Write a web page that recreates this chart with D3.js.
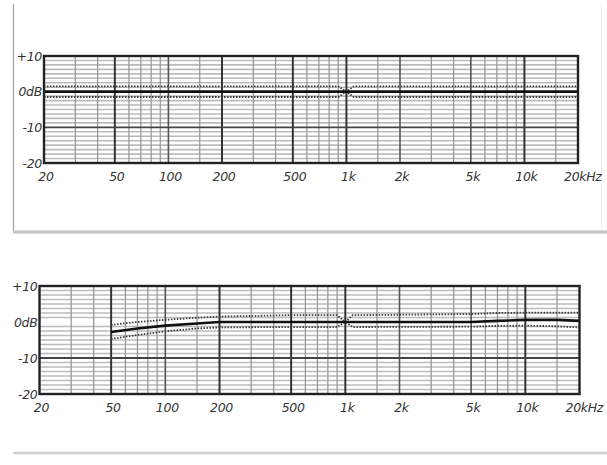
<!DOCTYPE html>
<html lang="en">
<head>
<meta charset="utf-8">
<script src="https://d3js.org/d3.v7.min.js"></script>
<style type="text/css">
body { margin: 0; background: #fff; }
.lab { font: italic 12.5px "DejaVu Sans", "Liberation Sans", sans-serif; fill: #333; letter-spacing: -0.3px; }
</style>
</head>
<body>
<svg id="chart" width="607" height="465"></svg>
<script type="text/javascript">

// frequency axis
var freqTicks = [20, 50, 100, 200, 500, 1000, 2000, 5000, 10000, 20000];
var freqLabels = ["20", "50", "100", "200", "500", "1k", "2k", "5k", "10k", "20kHz"];
var boldFreqs = [50, 200, 500, 1000, 10000];
var midFreqs = [100, 2000, 5000];
var minorFreqs = [30, 40, 60, 70, 80, 90, 150, 300, 400, 600, 700, 800, 900,
                  1500, 3000, 4000, 6000, 7000, 8000, 9000, 15000];

// level axis
var dbTicks = [10, 0, -10, -20];
var dbLabels = ["+10", "0dB", "-10", "-20"];
var dbMinor = [8.75, 7.5, 6.25, 5, 3.75, 2.5, 1.25, -1.25, -2.5, -3.75, -5, -6.25, -7.5, -8.75,
               -11.25, -12.5, -13.75, -15, -16.25, -17.5, -18.75];

// upper plot: flat response
var topFreq  = [20, 900, 1000, 1100, 20000];
var topMain  = [0, 0, 0, 0, 0];
var topUpper = [1.5, 1.5, 0, 1.5, 1.5];
var topLower = [-1.5, -1.5, 0, -1.5, -1.5];

// lower plot: starts at 50 Hz
var botFreq  = [50, 70, 100, 150, 200, 500, 900, 1000, 1100, 5000, 7000, 10000, 15000, 20000];
var botMain  = [-2.8, -1.8, -1.0, -0.4, 0, 0, 0, 0, 0, 0, 0.3, 0.6, 0.6, 0.3];
var botUpper = [-0.8, 0, 0.6, 1.2, 1.5, 1.9, 1.9, 0, 1.9, 2.2, 2.5, 2.6, 2.6, 2.6];
var botLower = [-4.7, -3.6, -2.6, -1.8, -1.5, -1.4, -1.4, 0, -1.4, -1.3, -1.1, -1.0, -1.2, -1.5];

var svg = d3.select("#chart");

// panel frames
svg.append("line").attr("x1", 13.5).attr("x2", 13.5).attr("y1", 4).attr("y2", 232)
  .style("stroke", "#a0a0a0").style("stroke-width", 1.2);
svg.append("line").attr("x1", 601.5).attr("x2", 601.5).attr("y1", 4).attr("y2", 232)
  .style("stroke", "#eeeeee").style("stroke-width", 1);
svg.append("line").attr("x1", 13).attr("x2", 607).attr("y1", 232).attr("y2", 232)
  .style("stroke", "#c4c4c4").style("stroke-width", 3);
svg.append("line").attr("x1", 13).attr("x2", 607).attr("y1", 453).attr("y2", 453)
  .style("stroke", "#cfcfcf").style("stroke-width", 2.5);

function drawPanel(left, right, top, bottom, freq, main, upper, lower) {
  var x = d3.scaleLog().domain([20, 20000]).range([left, right]);
  var y = d3.scaleLinear().domain([-20, 10]).range([bottom, top]);
  var g = svg.append("g");

  // horizontal grid
  g.selectAll(".hmin").data(dbMinor).enter().append("line")
    .attr("x1", left).attr("x2", right)
    .attr("y1", function(d) { return y(d); }).attr("y2", function(d) { return y(d); })
    .style("stroke", "#bbbbbb").style("stroke-width", 1.6);

  // vertical grid
  g.selectAll(".vmin").data(minorFreqs).enter().append("line")
    .attr("x1", function(d) { return x(d); }).attr("x2", function(d) { return x(d); })
    .attr("y1", top).attr("y2", bottom)
    .style("stroke", "#939393").style("stroke-width", 1.2);
  g.selectAll(".vmid").data(midFreqs).enter().append("line")
    .attr("x1", function(d) { return x(d); }).attr("x2", function(d) { return x(d); })
    .attr("y1", top).attr("y2", bottom)
    .style("stroke", "#555").style("stroke-width", 1.6);
  g.selectAll(".vbold").data(boldFreqs).enter().append("line")
    .attr("x1", function(d) { return x(d); }).attr("x2", function(d) { return x(d); })
    .attr("y1", top).attr("y2", bottom)
    .style("stroke", "#333").style("stroke-width", 2);

  g.append("line").attr("x1", left).attr("x2", right).attr("y1", y(-10)).attr("y2", y(-10))
    .style("stroke", "#444").style("stroke-width", 1.8);

  // curves
  var pts = function(vals) { return freq.map(function(f, i) { return [f, vals[i]]; }); };
  var line = d3.line().x(function(d) { return x(d[0]); }).y(function(d) { return y(d[1]); });

  [upper, lower].forEach(function(vals) {
    g.append("path").attr("d", line(pts(vals)))
      .style("fill", "none").style("stroke", "#3a3a3a")
      .style("stroke-width", 1.8).style("stroke-dasharray", "1.5,1.5");
  });
  g.append("path").attr("d", line(pts(main)))
    .style("fill", "none").style("stroke", "#111").style("stroke-width", 2.6);

  // border
  g.append("rect").attr("x", left).attr("y", top)
    .attr("width", right - left).attr("height", bottom - top)
    .style("fill", "none").style("stroke", "#222").style("stroke-width", 2.4);

  // labels
  g.selectAll(".ylab").data(dbTicks).enter().append("text")
    .attr("class", "lab")
    .attr("x", left - 2)
    .attr("y", function(d) { return y(d) + 4.5; })
    .attr("text-anchor", "end")
    .text(function(d, i) { return dbLabels[i]; });

  g.selectAll(".xlab").data(freqTicks).enter().append("text")
    .attr("class", "lab")
    .attr("x", function(d) { return x(d) + 2; })
    .attr("y", bottom + 18)
    .attr("text-anchor", function(d, i) { return i == freqTicks.length - 1 ? "start" : "middle"; })
    .attr("dx", function(d, i) { return i == freqTicks.length - 1 ? -16 : 0; })
    .text(function(d, i) { return freqLabels[i]; });
}

drawPanel(44, 578, 56, 163, topFreq, topMain, topUpper, topLower);
drawPanel(39.5, 579.5, 286, 394, botFreq, botMain, botUpper, botLower);

</script>
</body>
</html>
